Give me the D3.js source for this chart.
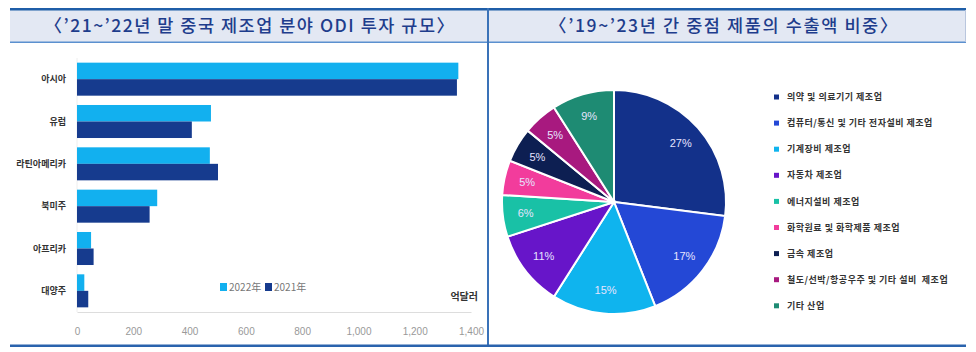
<!DOCTYPE html>
<html>
<head>
<meta charset="utf-8">
<script src="https://cdn.jsdelivr.net/npm/d3@7"></script>
<style>
  body { margin: 0; background: #fff; }
  svg { display: block; font-family: "Noto Sans CJK KR", "Noto Sans", sans-serif; }
</style>
</head>
<body>
<script>
let width = 976
let height = 352

// bar chart data (억달러)
const regions = ["아시아", "유럽", "라틴아메리카", "북미주", "아프리카", "대양주"]
const years = ["2022年", "2021年"]
const val2022 = [1355, 476, 472, 285, 50, 26]
const val2021 = [1350, 408, 501, 258, 59, 40]
const xTicks = [0, 200, 400, 600, 800, 1000, 1200, 1400]

// pie data (%)
const products = ["의약 및 의료기기 제조업", "컴퓨터/통신 및 기타 전자설비 제조업", "기계장비 제조업",
  "자동차 제조업", "에너지설비 제조업", "화학원료 및 화학제품 제조업", "금속 제조업",
  "철도/선박/항공우주 및 기타 설비  제조업", "기타 산업"]
const shares = [27, 17, 15, 11, 6, 5, 5, 5, 9]
const pieColors = ["#13318a", "#2448d6", "#0fb4ee", "#6715c9", "#19c1a6", "#f23c9c", "#0d1f52", "#a8197f", "#1e8b73"]

const svg = d3.select("body").append("svg")
  .attr("width", width)
  .attr("height", height)

// --- frame ---
svg.append("rect").attr("x", 10).attr("y", 10).attr("width", 956).attr("height", 32).attr("fill", "#e3e8f3")
svg.append("rect").attr("x", 10).attr("y", 8).attr("width", 956).attr("height", 2.5).attr("fill", "#1f5ea8")
svg.append("rect").attr("x", 10).attr("y", 41.5).attr("width", 956).attr("height", 1.5).attr("fill", "#5b90cf")
svg.append("rect").attr("x", 965).attr("y", 10).attr("width", 1).attr("height", 32).attr("fill", "#b9c6de")
svg.append("rect").attr("x", 487).attr("y", 8).attr("width", 2).attr("height", 338).attr("fill", "#3a72b8")
svg.append("rect").attr("x", 10).attr("y", 344.5).attr("width", 956).attr("height", 2.5).attr("fill", "#2a63ad")

svg.append("text").attr("x", 250).attr("y", 32).attr("text-anchor", "middle")
  .attr("font-size", 17.5).attr("font-weight", 500).attr("fill", "#1e3d8c")
  .attr("letter-spacing", 1.5)
  .text("〈’21~’22년 말 중국 제조업 분야 ODI 투자 규모〉")
svg.append("text").attr("x", 724).attr("y", 32).attr("text-anchor", "middle")
  .attr("font-size", 17.5).attr("font-weight", 500).attr("fill", "#1e3d8c")
  .attr("letter-spacing", 1.6)
  .text("〈’19~’23년 간 중점 제품의 수출액 비중〉")

// --- bar chart ---
const x = d3.scaleLinear().domain([0, 1400]).range([77, 471])
const y = d3.scaleBand().domain(regions).range([58, 312]).paddingInner(0.22).paddingOuter(0.11)
const ySub = d3.scaleBand().domain(years).range([0, y.bandwidth()])
const barColors = { "2022年": "#12b0ef", "2021年": "#163b8e" }

const rows = regions.map((r, i) => ({ region: r, values: [["2022年", val2022[i]], ["2021年", val2021[i]]] }))

svg.append("line").attr("x1", 77).attr("x2", 77).attr("y1", 58).attr("y2", 312)
  .attr("stroke", "#eeeeee").attr("stroke-width", 1)

const g = svg.selectAll("g.region").data(rows).enter()
  .append("g").attr("class", "region")
  .attr("transform", d => `translate(0,${y(d.region)})`)
g.selectAll("rect").data(d => d.values).enter()
  .append("rect")
  .attr("x", x(0))
  .attr("y", d => ySub(d[0]))
  .attr("width", d => x(d[1]) - x(0))
  .attr("height", ySub.bandwidth())
  .attr("fill", d => barColors[d[0]])

svg.selectAll("text.cat").data(regions).enter()
  .append("text").attr("class", "cat")
  .attr("x", 66).attr("y", d => y(d) + y.bandwidth() / 2)
  .attr("dy", "0.35em").attr("text-anchor", "end")
  .attr("font-size", 9).attr("font-weight", 700).attr("fill", "#333")
  .text(d => d)

const xAxis = svg.append("g").attr("transform", "translate(0,312)")
  .call(d3.axisBottom(x).tickValues(xTicks).tickSize(0).tickPadding(16).tickFormat(d3.format(",")))
xAxis.select(".domain").attr("stroke", "#dddddd")
xAxis.selectAll("text").attr("fill", "#999").attr("font-size", 10)
  .attr("font-family", "'Liberation Sans Narrow', 'Liberation Sans', sans-serif")

// legend
const lg = svg.append("g").attr("transform", "translate(220,287)")
years.forEach((yr, i) => {
  const o = i * 45
  lg.append("rect").attr("x", o).attr("y", -4).attr("width", 7).attr("height", 8).attr("fill", barColors[yr])
  lg.append("text").attr("x", o + 9).attr("y", 0).attr("dy", "0.35em")
    .attr("font-size", 10).attr("fill", "#777").text(yr)
})
svg.append("text").attr("x", 478).attr("y", 296).attr("dy", "0.35em").attr("text-anchor", "end")
  .attr("font-size", 10).attr("font-weight", 700).attr("fill", "#333").text("억달러")

// --- pie chart ---
const cx = 614, cy = 202, r = 112
const pie = d3.pie().sort(null).value(d => d)
const arc = d3.arc().innerRadius(0).outerRadius(r)
const labelArc = d3.arc().innerRadius(89).outerRadius(89)
const pg = svg.append("g").attr("transform", `translate(${cx},${cy})`)
const arcs = pie(shares)
pg.selectAll("path").data(arcs).enter()
  .append("path")
  .attr("d", arc)
  .attr("fill", (d, i) => pieColors[i])
  .attr("stroke", "#fff").attr("stroke-width", 2)
pg.selectAll("text").data(arcs).enter()
  .append("text")
  .attr("transform", d => `translate(${labelArc.centroid(d)})`)
  .attr("text-anchor", "middle").attr("dy", "0.35em")
  .attr("font-size", 11).attr("fill", "#e6e4ff")
  .attr("font-family", "'Liberation Sans', sans-serif")
  .text(d => d.data + "%")

// pie legend
const pl = svg.append("g")
products.forEach((p, i) => {
  const yy = 97 + i * 26.1
  pl.append("rect").attr("x", 774).attr("y", yy - 2.5).attr("width", 5).attr("height", 5).attr("fill", pieColors[i])
  pl.append("text").attr("x", 787).attr("y", yy).attr("dy", "0.35em")
    .attr("font-size", 9).attr("font-weight", 700).attr("fill", "#333")
    .attr("letter-spacing", 0.5)
    .style("white-space", "pre")
    .text(p)
})
</script>
</body>
</html>
